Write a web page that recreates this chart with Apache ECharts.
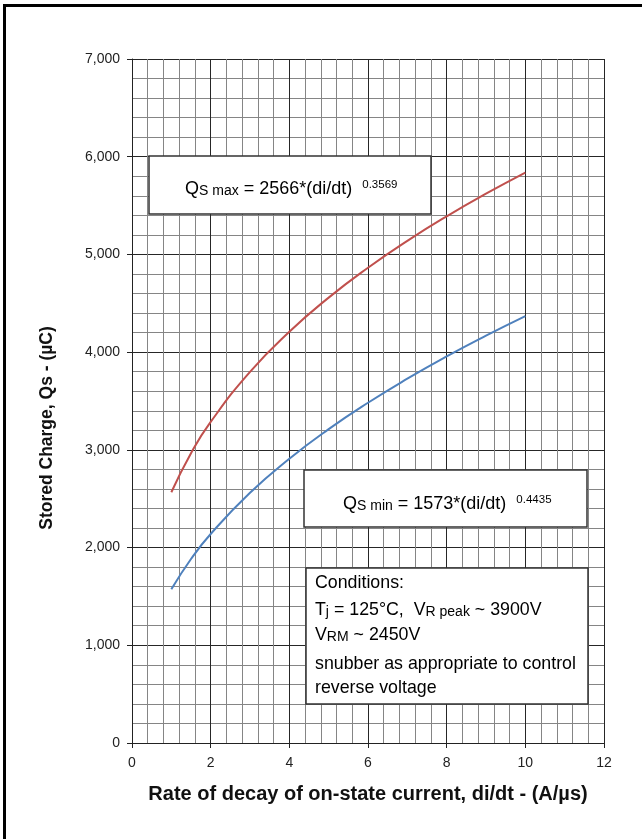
<!DOCTYPE html>
<html>
<head>
<meta charset="utf-8">
<script src="https://cdn.jsdelivr.net/npm/echarts@6/dist/echarts.min.js"></script>
<style>
  html, body { margin: 0; padding: 0; background: #fff; }
  #frame { position: absolute; left: 3px; top: 4px; width: 660px; height: 860px;
           border-left: 3px solid #000; border-top: 3px solid #000; box-sizing: border-box; }
  #chart { position: absolute; left: 0; top: 0; width: 642px; height: 839px; }
</style>
</head>
<body>
<div id="frame"></div>
<div id="chart"></div>
<script>
// di/dt values (A/µs) at which the stored charge is read
const diDt = [1, 1.5, 2, 3, 4, 5, 6, 7, 8, 9, 10];
// Maximum stored charge Qs max (µC)
const qsMax = [2566, 2966, 3286, 3798, 4209, 4558, 4864, 5139, 5390, 5621, 5837];
// Minimum stored charge Qs min (µC)
const qsMin = [1573, 1883, 2139, 2561, 2909, 3212, 3482, 3728, 3956, 4168, 4368];

const xAxisRange = { min: 0, max: 12, interval: 2 };
const yAxisRange = { min: 0, max: 7000, interval: 1000 };

// Note box lines
const conditionLines = [
  '{c|Conditions:}',
  '{c|T}{cs|j}{c| = 125°C,  V}{cs|R peak}{c| ~ 3900V}',
  '{c|V}{cs|RM}{c| ~ 2450V}',
  '{c|snubber as appropriate to control}',
  '{c|reverse voltage}'
];

const fontFamily = '"Liberation Sans", Arial, sans-serif';

function pairs(xs, ys) { return xs.map((x, i) => [x, ys[i]]); }

const chart = echarts.init(document.getElementById('chart'), null, { renderer: 'canvas' });

const majorLine = { show: true, lineStyle: { color: '#262626', width: 1 } };
const minorLine = { show: true, lineStyle: { color: '#858585', width: 1 } };

function box(x, y, w, h) {
  return {
    type: 'rect', z: 100,
    shape: { x: x, y: y, width: w, height: h },
    style: { fill: '#fff', stroke: '#333', lineWidth: 1.5 }
  };
}

const eqRich = {
  n: { fontSize: 18, fontFamily: fontFamily, color: '#111', verticalAlign: 'bottom', lineHeight: 24 },
  s: { fontSize: 14, fontFamily: fontFamily, color: '#111', verticalAlign: 'bottom', lineHeight: 23 },
  sup: { fontSize: 11.5, fontFamily: fontFamily, color: '#111', verticalAlign: 'top', lineHeight: 14,
         padding: [5, 0, 0, 0] }
};

const condRich = {
  c: { fontSize: 17.8, fontFamily: fontFamily, color: '#111', verticalAlign: 'bottom', lineHeight: 22 },
  cs: { fontSize: 14, fontFamily: fontFamily, color: '#111', verticalAlign: 'bottom', lineHeight: 21 }
};

function label(x, y, text, rich) {
  return {
    type: 'text', z: 101, x: x, y: y,
    style: { text: text, rich: rich, align: 'left', verticalAlign: 'middle' }
  };
}

const condY = [581, 608, 633, 662, 686];

chart.setOption({
  animation: false,
  backgroundColor: 'transparent',
  grid: { left: 132, right: 38, top: 59, bottom: 96, containLabel: false },
  xAxis: {
    type: 'value',
    min: xAxisRange.min, max: xAxisRange.max, interval: xAxisRange.interval,
    name: 'Rate of decay of on-state current, di/dt - (A/µs)',
    nameLocation: 'middle', nameGap: 41,
    nameTextStyle: { fontSize: 20, fontWeight: 'bold', color: '#111', fontFamily: fontFamily },
    axisLine: { show: true, onZero: false, lineStyle: { color: '#222', width: 1 } },
    axisTick: { show: true, length: 5, inside: false, lineStyle: { color: '#222' } },
    axisLabel: { margin: 13, fontSize: 14, color: '#222', fontFamily: fontFamily },
    splitLine: majorLine,
    minorTick: { show: false, splitNumber: 5 },
    minorSplitLine: minorLine
  },
  yAxis: {
    type: 'value',
    min: yAxisRange.min, max: yAxisRange.max, interval: yAxisRange.interval,
    name: 'Stored Charge, Qs - (µC)',
    nameLocation: 'middle', nameGap: 76,
    nameTextStyle: { fontSize: 17.5, fontWeight: 'bold', color: '#111', fontFamily: fontFamily,
                     padding: [0, 54, 0, 0] },
    axisLine: { show: true, onZero: false, lineStyle: { color: '#222', width: 1 } },
    axisTick: { show: true, length: 5, inside: false, lineStyle: { color: '#222' } },
    axisLabel: { margin: 12, fontSize: 14, color: '#222', fontFamily: fontFamily },
    splitLine: majorLine,
    minorTick: { show: false, splitNumber: 5 },
    minorSplitLine: minorLine
  },
  series: [
    {
      name: 'Qs max', type: 'line', smooth: true, showSymbol: false,
      data: pairs(diDt, qsMax),
      lineStyle: { color: '#c0504d', width: 2 }, z: 5
    },
    {
      name: 'Qs min', type: 'line', smooth: true, showSymbol: false,
      data: pairs(diDt, qsMin),
      lineStyle: { color: '#4f81bd', width: 2 }, z: 5
    }
  ],
  graphic: [
    box(149, 156, 282, 58),
    label(185, 186, '{n|Q}{s|S max}{n| = 2566*(di/dt)  }{sup|0.3569}', eqRich),
    box(304, 470, 283, 57),
    label(343, 501, '{n|Q}{s|S min}{n| = 1573*(di/dt)  }{sup|0.4435}', eqRich),
    box(306, 568, 282, 136)
  ].concat(conditionLines.map((t, i) => label(315, condY[i], t, condRich)))
});
</script>
</body>
</html>
